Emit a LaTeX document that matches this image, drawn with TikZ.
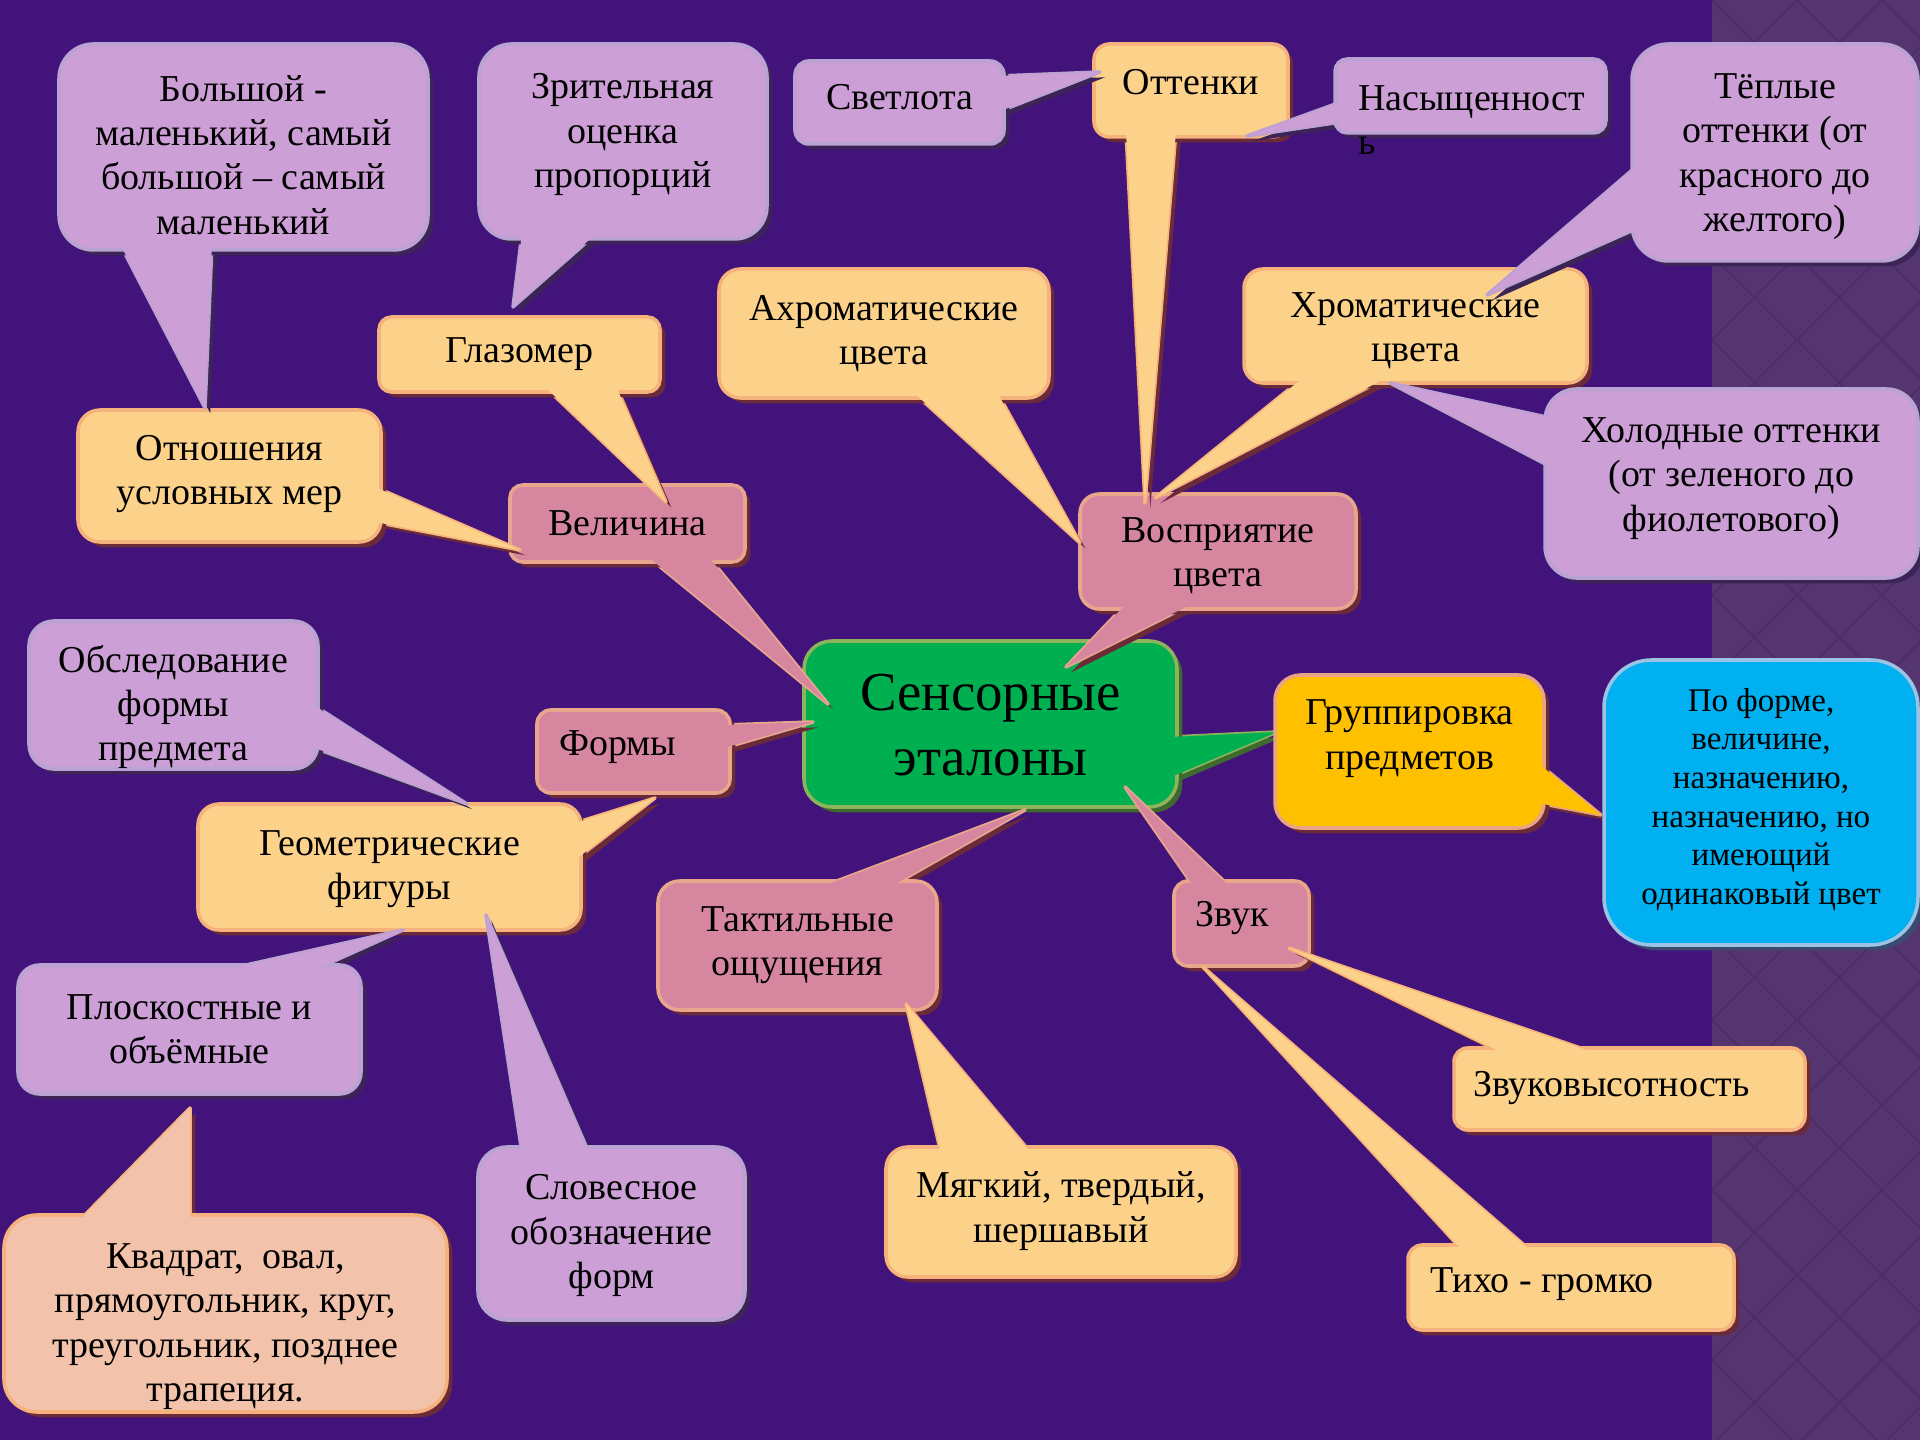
\documentclass[tikz,border=0pt]{standalone}
\usepackage{fontspec}
\setmainfont{Liberation Serif}
\usetikzlibrary{shadows}
\definecolor{bgc}{HTML}{42137A}
\definecolor{stripc}{HTML}{553570}
\definecolor{stripl}{HTML}{4D2E68}
\definecolor{lilc}{HTML}{CC9FD6}
\definecolor{lilb}{HTML}{B9A3D2}
\definecolor{lils}{HTML}{3C2556}
\definecolor{yelc}{HTML}{FCD28B}
\definecolor{yelb}{HTML}{F5B27C}
\definecolor{yels}{HTML}{6A2A38}
\definecolor{pnkc}{HTML}{D6879F}
\definecolor{pnkb}{HTML}{E8A68C}
\definecolor{grnc}{HTML}{00B050}
\definecolor{grnb}{HTML}{8DB45A}
\definecolor{grns}{HTML}{3F6A2E}
\definecolor{orgc}{HTML}{FFC000}
\definecolor{orgb}{HTML}{E8A484}
\definecolor{bluc}{HTML}{00B0F0}
\definecolor{blub}{HTML}{9CC3E3}
\definecolor{blus}{HTML}{3A4A70}
\definecolor{pchc}{HTML}{F2C2AA}
\definecolor{pchb}{HTML}{F5B27C}
\newcommand\normfs{\fontsize{10.8}{12.6}\selectfont}
\newcommand\bigfs{\fontsize{15.6}{18.6}\selectfont}
\newcommand\smallfs{\fontsize{9.4}{11}\selectfont}
\newcommand\defpal[4]{\tikzset{
  #1box/.style={fill=#2,draw=#3,line width=1pt,inner sep=0pt,outer sep=0pt,
    drop shadow={shadow xshift=1.5pt,shadow yshift=-1.5pt,fill=#4,opacity=1}},
  #1ptr/.style={fill=#2,draw=#3,line width=1pt,line join=round,
    drop shadow={shadow xshift=1.5pt,shadow yshift=-1.5pt,fill=#4,opacity=1}},
  #1fill/.style={fill=#2}}}
\defpal{lil}{lilc}{lilb}{lils}
\defpal{yel}{yelc}{yelb}{yels}
\defpal{pnk}{pnkc}{pnkb}{yels}
\defpal{grn}{grnc}{grnb}{grns}
\defpal{org}{orgc}{orgb}{yels}
\defpal{blu}{bluc}{blub}{blus}
\defpal{pch}{pchc}{pchb}{yels}
\tikzset{txt/.style={font=\normfs,align=center,inner sep=0pt,text=black}}
\newcommand\bubble[9]{%
  \pgfmathsetlengthmacro\bw{(#5-#3)*0.01cm}%
  \pgfmathsetlengthmacro\bh{(#6-#4)*0.01cm}%
  \pgfmathsetlengthmacro\rr{0.1667*min(#5-#3,#6-#4)*0.01cm}%
  \pgfmathsetmacro\cx{(#3+#5)/2}%
  \pgfmathsetmacro\cy{(#4+#6)/2}%
  \if\relax\detokenize{#7}\relax\else\path[#1ptr] #7 -- cycle;\fi
  \node[#1box,minimum width=\bw,minimum height=\bh,rounded corners=\rr] (#2) at (\cx,\cy) {};%
  \if\relax\detokenize{#7}\relax\else\path[#1fill] #7 -- cycle;\fi
  \node[txt,#8] (#2-t) at (#2.center) {#9};%
}
\begin{document}
\begin{tikzpicture}[x=0.01cm,y=-0.01cm]
\useasboundingbox (0,0) rectangle (1920,1440);
\fill[bgc] (0,0) rectangle (1920,1440);
\fill[stripc] (1712,0) rectangle (1920,1440);
\begin{scope}
\clip (1712,0) rectangle (1920,1440);
\foreach \k in {-4,...,22}{
  \draw[stripl,line width=0.6pt] (1712,\k*85) -- ++(400,400);
  \draw[stripl,line width=0.6pt] (1712,\k*85) -- ++(400,-400);
}
\end{scope}

\bubble{grn}{center}{804}{641}{1177}{807}{(1171,737) -- (1171,777) -- (1277,732)}{font=\bigfs,shift={(0,1)}}{Сенсорные\\эталоны}
\bubble{pnk}{vospr}{1080}{494}{1356}{609}{(1127,603) -- (1194,603) -- (1066,667)}{shift={(0,4)}}{Восприятие\\цвета}
\bubble{pnk}{velich}{510}{485}{745}{562}{(647,556) -- (708,556) -- (828,704)}{}{Величина}
\bubble{pnk}{formy}{537}{710}{730}{793}{(724,725) -- (724,748) -- (813,722)}{shift={(-16,-4)}}{Формы}
\bubble{pnk}{taktil}{658}{881}{937}{1010}{(821,887) -- (890,887) -- (1025,810)}{}{Тактильные\\ощущения}
\bubble{pnk}{zvuk}{1174}{881}{1309}{966}{(1194,887) -- (1230,887) -- (1125,787)}{shift={(-9,-5)}}{Звук}
\bubble{org}{grupp}{1275}{675}{1544}{828}{(1538,763) -- (1538,803) -- (1601,815)}{shift={(0,-13)}}{Группировка\\предметов}
\bubble{blu}{blue}{1604}{660}{1918}{945}{}{font=\smallfs,shift={(0,-3)}}{По форме,\\величине,\\назначению,\\назначению, но\\имеющий\\одинаковый цвет}
\bubble{yel}{glazomer}{379}{317}{660}{392}{(544,386) -- (616,386) -- (666,502)}{}{Глазомер}
\bubble{yel}{otnosh}{78}{410}{381}{542}{(375,487) -- (375,522) -- (520,550)}{shift={(0,-2)}}{Отношения\\условных мер}
\bubble{yel}{akhrom}{719}{269}{1049}{398}{(913,392) -- (997,392) -- (1080,543)}{shift={(0,0)}}{Ахроматические\\цвета}
\bubble{yel}{khrom}{1244}{269}{1587}{383}{(1304,377) -- (1388,377) -- (1155,498)}{shift={(0,5)}}{Хроматические\\цвета}
\bubble{yel}{ottenki}{1094}{44}{1288}{137}{(1126,131) -- (1176,131) -- (1145,503)}{shift={(0,-8)}}{Оттенки}
\bubble{yel}{geom}{198}{804}{581}{930}{(575,823) -- (575,860) -- (655,798)}{shift={(0,2)}}{Геометрические\\фигуры}
\bubble{yel}{myagk}{886}{1147}{1236}{1277}{(941,1153) -- (1031,1153) -- (906,1004)}{shift={(0,-1)}}{Мягкий, твердый,\\шершавый}
\bubble{yel}{zvukovys}{1454}{1048}{1805}{1130}{(1505,1054) -- (1598,1054) -- (1289,948)}{shift={(-18,-1)}}{Звуковысотность}
\bubble{yel}{tikho}{1408}{1245}{1734}{1330}{(1463,1251) -- (1531,1251) -- (1203,967)}{shift={(-29,-3)}}{Тихо - громко}
\bubble{lil}{bolshoi}{59}{44}{428}{250}{(120,244) -- (212,244) -- (205,408)}{shift={(0,8)}}{Большой -\\маленький, самый\\большой – самый\\маленький}
\bubble{lil}{zritel}{479}{44}{767}{239}{(522,233) -- (597,233) -- (513,307)}{shift={(0,-7)}}{Зрительная\\оценка\\пропорций}
\bubble{lil}{svetlota}{795}{61}{1004}{144}{(998,76) -- (998,112) -- (1100,72)}{shift={(0,-5)}}{Светлота}
\bubble{lil}{nasysh}{1335}{59}{1606}{133}{(1341,102) -- (1341,122) -- (1247,136)}{anchor=west,align=left,shift={(-113,24)}}{Насыщенност\\ь}
\bubble{lil}{teplye}{1632}{44}{1918}{261}{(1638,165) -- (1638,228) -- (1487,295)}{shift={(0,4)}}{Тёплые\\оттенки (от\\красного до\\желтого)}
\bubble{lil}{kholod}{1545}{389}{1918}{578}{(1551,418) -- (1551,467) -- (1390,383)}{shift={(0,-5)}}{Холодные оттенки\\(от зеленого до\\фиолетового)}
\bubble{lil}{obsled}{29}{621}{318}{769}{(312,704) -- (312,747) -- (467,804)}{shift={(0,12)}}{Обследование\\формы\\предмета}
\bubble{lil}{plosk}{18}{965}{361}{1094}{(219,971) -- (312,971) -- (403,930)}{shift={(0,0)}}{Плоскостные и\\объёмные}
\bubble{pch}{kvadrat}{4}{1215}{447}{1412}{(79,1221) -- (190,1221) -- (190,1108)}{shift={(0,13)}}{Квадрат, \ овал,\\прямоугольник, круг,\\треугольник, позднее\\трапеция.}
\bubble{lil}{slovesn}{478}{1147}{745}{1320}{(522,1153) -- (589,1153) -- (486,915)}{shift={(0,2)}}{Словесное\\обозначение\\форм}
\end{tikzpicture}
\end{document}
